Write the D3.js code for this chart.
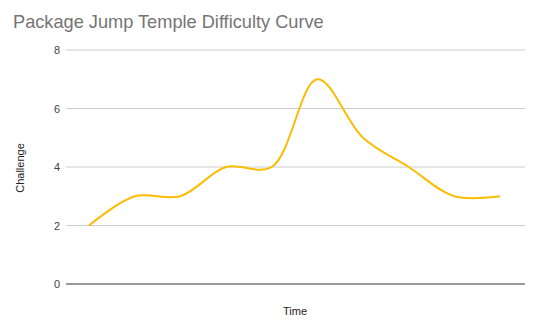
<!DOCTYPE html>
<html><head><meta charset="utf-8">
<script src="https://cdn.jsdelivr.net/npm/d3@7"></script>
<style>body{margin:0;background:#fff}svg{display:block}</style>
</head><body>
<script>
const title = "Package Jump Temple Difficulty Curve";
const xLabel = "Time";
const yLabel = "Challenge";
const steps = [1,2,3,4,5,6,7,8,9,10];
const challenge = [2,3,3,4,4,7,5,4,3,3];
const yTicks = [0,2,4,6,8];

const W=540,H=331;
const svg=d3.select("body").append("svg").attr("width",W).attr("height",H);
const plot={l:66,r:525,t:50,b:284};
const x=d3.scalePoint().domain(steps).range([89,500]);
const y=d3.scaleLinear().domain([0,8]).range([plot.b,plot.t]);

svg.append("text").attr("x",13).attr("y",28).attr("fill","#757575")
  .style("font-family","Arial, 'Liberation Sans', sans-serif").style("font-size","18.2px").text(title);

const g=svg.append("g");
g.selectAll("line.grid").data(yTicks).join("line")
  .attr("x1",plot.l).attr("x2",plot.r).attr("y1",d=>y(d)).attr("y2",d=>y(d))
  .attr("stroke",d=>d===0?"#333":"#ccc").attr("stroke-width",1);
g.selectAll("text.tick").data(yTicks).join("text")
  .attr("x",60).attr("y",d=>y(d)+4).attr("text-anchor","end").attr("fill","#444")
  .style("font-family","Arial, 'Liberation Sans', sans-serif").style("font-size","11px").text(d=>d);

svg.append("text").attr("transform","translate(24,168) rotate(-90)").attr("text-anchor","middle")
  .attr("fill","#222").style("font-family","Arial, 'Liberation Sans', sans-serif").style("font-size","11px").text(yLabel);
svg.append("text").attr("x",295).attr("y",315).attr("text-anchor","middle")
  .attr("fill","#222").style("font-family","Arial, 'Liberation Sans', sans-serif").style("font-size","11px").text(xLabel);

const line=d3.line().x((d,i)=>x(steps[i])).y(d=>y(d)).curve(d3.curveCatmullRom.alpha(0.5));
svg.append("path").datum(challenge).attr("d",line).attr("fill","none")
  .attr("stroke","#fbbc04").attr("stroke-width",2);
</script>
</body></html>
